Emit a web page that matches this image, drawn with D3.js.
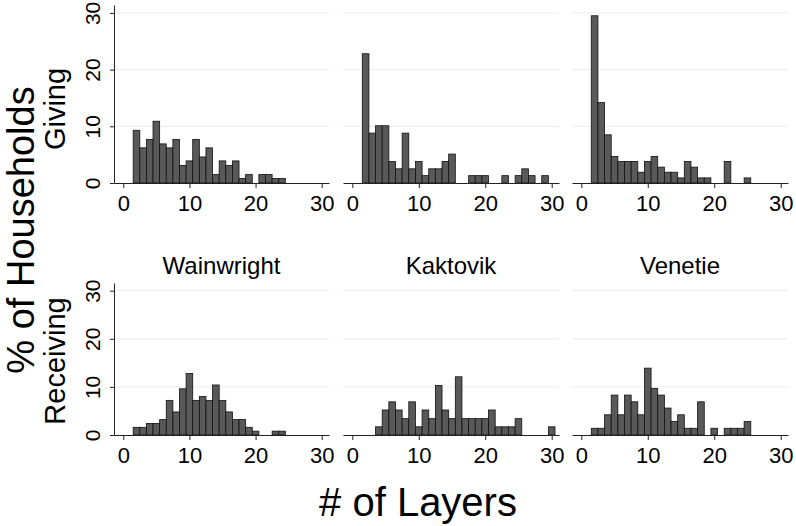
<!DOCTYPE html>
<html>
<head>
<meta charset="utf-8">
<script src="https://cdn.jsdelivr.net/npm/d3@7"></script>
<style>
  html, body { margin: 0; padding: 0; background: #fff; }
  svg { display: block; font-family: "Liberation Sans", Arial, Helvetica, sans-serif; }
</style>
</head>
<body>
<svg id="chart" width="796" height="526"></svg>
<script>
// # of layers (bins 1..30)
const layers = [1, 2, 3, 4, 5, 6, 7, 8, 9, 10, 11, 12, 13, 14, 15,
                16, 17, 18, 19, 20, 21, 22, 23, 24, 25, 26, 27, 28, 29, 30];

const villages = ['Wainwright', 'Kaktovik', 'Venetie'];
const roles = ['Giving', 'Receiving'];
const xTicks = [0, 10, 20, 30];
const yTicks = [0, 10, 20, 30];

// % of households, one value per bin
const wainwrightGiving = [0, 9.3, 6.2, 7.7, 10.9, 6.9, 6.2, 7.7, 3.1, 3.9, 7.7, 4.6, 6.2, 1.5, 3.9,
                          3.1, 3.9, 0.8, 1.5, 0, 1.5, 1.5, 0.8, 0.8, 0, 0, 0, 0, 0, 0];
const kaktovikGiving = [0, 22.8, 8.8, 10.1, 10.1, 3.8, 2.5, 8.8, 2.5, 3.8, 1.3, 2.5, 2.5, 3.8, 5.1,
                        0, 0, 1.3, 1.3, 1.3, 0, 0, 1.3, 0, 1.3, 2.5, 1.3, 0, 1.3, 0];
const venetieGiving = [0, 29.5, 14.2, 8.5, 4.7, 3.8, 3.8, 3.8, 1.9, 3.8, 4.7, 2.8, 1.9, 1.9, 0.9,
                       3.8, 2.8, 0.9, 0.9, 0, 0, 3.8, 0, 0, 0.9, 0, 0, 0, 0, 0];
const wainwrightReceiving = [0, 1.6, 1.6, 2.4, 2.4, 3.2, 7.2, 4.8, 9.6, 12.8, 7.2, 8.0, 7.2, 10.4, 7.2,
                             4.8, 3.2, 3.2, 1.6, 0.8, 0, 0, 0.8, 0.8, 0, 0, 0, 0, 0, 0];
const kaktovikReceiving = [0, 0, 0, 1.7, 5.2, 6.9, 5.2, 3.4, 6.9, 1.7, 5.2, 3.4, 10.3, 5.2, 3.4,
                           12.1, 3.4, 3.4, 3.4, 3.4, 5.2, 1.7, 1.7, 1.7, 3.4, 0, 0, 0, 0, 1.7];
const venetieReceiving = [0, 1.4, 1.4, 4.2, 8.3, 4.2, 8.3, 6.9, 4.2, 13.9, 9.7, 8.3, 5.6, 2.8, 4.2,
                          1.4, 1.4, 6.9, 0, 1.4, 0, 1.4, 1.4, 1.4, 2.8, 0, 0, 0, 0, 0];

const series = [
  [wainwrightGiving, kaktovikGiving, venetieGiving],
  [wainwrightReceiving, kaktovikReceiving, venetieReceiving]
];

const svg = d3.select('#chart');

// panel geometry
const colX = [[114, 329], [343, 559], [572, 788]];
const rowY = [[183, 5], [435, 283]];
const yMax = [31.4, 31.6];

const black = '#000';
const axisColor = '#222';

roles.forEach((role, r) => {
  const y = d3.scaleLinear().domain([0, yMax[r]]).range(rowY[r]);

  villages.forEach((village, c) => {
    const x = d3.scaleLinear().domain([-1.4, 31.1]).range(colX[c]);
    const g = svg.append('g');

    // grid
    g.selectAll('line.grid')
      .data(yTicks.filter(t => t > 0))
      .enter().append('line')
      .attr('class', 'grid')
      .attr('x1', colX[c][0]).attr('x2', colX[c][1])
      .attr('y1', d => y(d)).attr('y2', d => y(d))
      .attr('stroke', '#ececec')
      .attr('stroke-width', 1);

    // bars
    const bins = layers.map((k, i) => ({ k, v: series[r][c][i] })).filter(d => d.v > 0);
    g.selectAll('rect.bar')
      .data(bins)
      .enter().append('rect')
      .attr('class', 'bar')
      .attr('x', d => x(d.k - 0.5))
      .attr('width', d => x(d.k + 0.5) - x(d.k - 0.5))
      .attr('y', d => y(d.v))
      .attr('height', d => y(0) - y(d.v))
      .attr('fill', '#595959')
      .attr('stroke', '#111')
      .attr('stroke-width', 0.8);

    // x axis
    const xAxis = g.append('g')
      .attr('transform', `translate(0,${rowY[r][0]})`)
      .call(d3.axisBottom(x).tickValues(xTicks).tickSize(5).tickSizeOuter(0).tickPadding(7));
    xAxis.select('.domain').attr('stroke', axisColor);
    xAxis.selectAll('.tick line').attr('stroke', axisColor);
    xAxis.selectAll('.tick text')
      .attr('fill', black)
      .style('font-size', '22px');

    // y axis only on the first column
    if (c === 0) {
      const yAxis = g.append('g')
        .attr('transform', `translate(${colX[c][0]},0)`)
        .call(d3.axisLeft(y).tickValues(yTicks).tickSize(4).tickSizeOuter(0));
      yAxis.select('.domain').attr('stroke', axisColor);
      yAxis.selectAll('.tick line').attr('stroke', axisColor);
      yAxis.selectAll('.tick text')
        .attr('transform', 'rotate(-90)')
        .attr('x', 0)
        .attr('y', -14)
        .attr('dy', 0)
        .attr('text-anchor', 'middle')
        .attr('fill', black)
        .style('font-size', '21px');
    }

    // village titles over the bottom row
    if (r === 1) {
      svg.append('text')
        .attr('x', (colX[c][0] + colX[c][1]) / 2)
        .attr('y', 274)
        .attr('text-anchor', 'middle')
        .style('font-size', '24px')
        .attr('fill', black)
        .text(village);
    }
  });

  // row label
  const rowCenter = r === 0 ? 109 : 361;
  svg.append('text')
    .attr('transform', `translate(65,${rowCenter}) rotate(-90)`)
    .attr('text-anchor', 'middle')
    .style('font-size', '29px')
    .attr('fill', black)
    .text(role);
});

// axis titles
svg.append('text')
  .attr('transform', 'translate(34,230) rotate(-90)')
  .attr('text-anchor', 'middle')
  .style('font-size', '38px')
  .attr('fill', black)
  .text('% of Households');

svg.append('text')
  .attr('x', 418)
  .attr('y', 516)
  .attr('text-anchor', 'middle')
  .style('font-size', '40px')
  .attr('fill', black)
  .text('# of Layers');
</script>
</body>
</html>
